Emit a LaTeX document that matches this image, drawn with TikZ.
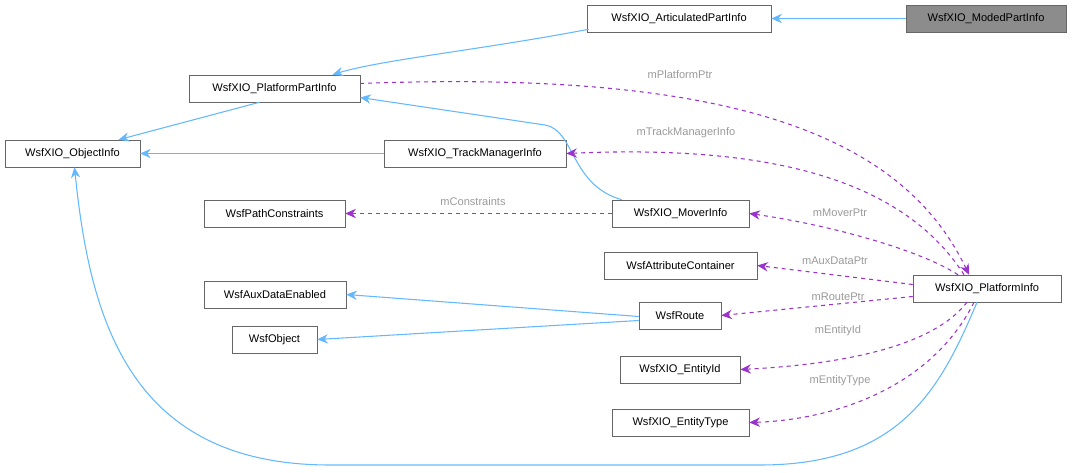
\documentclass[tikz,border=0pt]{standalone}
\usepackage{fontspec}
\setmainfont{Liberation Sans}
\usetikzlibrary{arrows.meta,calc}
\definecolor{inh}{HTML}{63B8FF}
\definecolor{mem}{HTML}{9A32CD}
\definecolor{lbl}{HTML}{9A9A9A}
\begin{document}
\begin{tikzpicture}[x=0.75pt,y=-0.75pt,
  cls/.style={draw=black!60,fill=white,inner sep=0pt,minimum height=20.25pt,font=\fontsize{8.3}{10}\selectfont},
  inhline/.style={draw=inh,line width=0.8pt,-{Stealth[length=8pt,width=7pt]}},
  memline/.style={draw=mem,line width=0.8pt,dashed,-{Stealth[length=8pt,width=7pt]}},
  lab/.style={text=lbl,font=\fontsize{8.3}{10}\selectfont,inner sep=1pt}]
\useasboundingbox (0,0) rectangle (1073,473);
\node[cls,fill=black!45,minimum width=120pt] (moded) at (986,18.5) {WsfXIO\_ModedPartInfo};
\node[cls,minimum width=138pt] (art) at (679,18.5) {WsfXIO\_ArticulatedPartInfo};
\node[cls,minimum width=128pt] (ppi) at (274.5,88.5) {WsfXIO\_PlatformPartInfo};
\node[cls,minimum width=101pt] (obj) at (72.5,153.5) {WsfXIO\_ObjectInfo};
\node[cls,minimum width=136.5pt] (tmi) at (475,153.5) {WsfXIO\_TrackManagerInfo};
\node[cls,minimum width=105.75pt] (pc) at (274.5,213.5) {WsfPathConstraints};
\node[cls,minimum width=102.75pt] (mover) at (680.5,213.5) {WsfXIO\_MoverInfo};
\node[cls,minimum width=114.75pt] (attr) at (680.5,265.5) {WsfAttributeContainer};
\node[cls,minimum width=111pt] (pi) at (987,288.5) {WsfXIO\_PlatformInfo};
\node[cls,minimum width=106.5pt] (aux) at (275,294.5) {WsfAuxDataEnabled};
\node[cls,minimum width=61.5pt] (route) at (680,315.5) {WsfRoute};
\node[cls,minimum width=63.75pt] (wobj) at (274.5,339.5) {WsfObject};
\node[cls,minimum width=90pt] (eid) at (680,369.5) {WsfXIO\_EntityId};
\node[cls,minimum width=102.75pt] (etype) at (680.5,422.5) {WsfXIO\_EntityType};
% inheritance
\draw[inhline] (moded.west) -- (art.east);
\draw[inhline] ($(art.south west)+(2,-3)$) .. controls (480,50) and (380,60) .. ($(ppi.north)+(58,0)$);
\draw[inhline] ($(ppi.south)+(-15,0)$) -- ($(obj.north)+(46,0)$);
\draw[inhline] (tmi.west) -- (obj.east);
\draw[inhline] ($(mover.north west)+(10,0)$) .. controls (570,185) and (575,130) .. (545,125) -- ($(ppi.east)+(0,9)$);
\draw[inhline] ($(route.west)+(0,1)$) -- ($(aux.east)+(0,0)$);
\draw[inhline] ($(route.west)+(0,5)$) -- (wobj.east);
\draw[inhline] ($(pi.south)+(-10,0)$) .. controls (940,390) and (900,465) .. (760,465) -- (330,465) .. controls (130,465) and (90,320) .. ($(obj.south)+(2,0)$);
% members
\draw[memline] ($(ppi.east)+(0,-5)$) .. controls (720,70) and (900,130) .. ($(pi.north)+(-18,0)$);
\node[lab] (l1) at (680,75) {mPlatformPtr};
\draw[memline] ($(pi.north)+(-23,0)$) .. controls (900,175) and (760,145) .. (tmi.east);
\node[lab] (l2) at (686,133) {mTrackManagerInfo};
\draw[memline] ($(pi.north)+(-29,0)$) .. controls (920,250) and (830,225) .. (mover.east);
\node[lab] (l3) at (840,213) {mMoverPtr};
\draw[memline] (mover.west) -- (pc.east);
\node[lab] (l4) at (473,202) {mConstraints};
\draw[memline] ($(pi.west)+(0,-4)$) -- (attr.east);
\node[lab] (l5) at (835,261) {mAuxDataPtr};
\draw[memline] ($(pi.west)+(0,8)$) -- (route.east);
\node[lab] (l6) at (838,297) {mRoutePtr};
\draw[memline] ($(pi.south)+(-20,0)$) .. controls (930,350) and (830,365) .. (eid.east);
\node[lab] (l7) at (838,331) {mEntityId};
\draw[memline] ($(pi.south)+(-13,0)$) .. controls (930,390) and (830,420) .. (etype.east);
\node[lab] (l8) at (840,381) {mEntityType};
\end{tikzpicture}
\end{document}
